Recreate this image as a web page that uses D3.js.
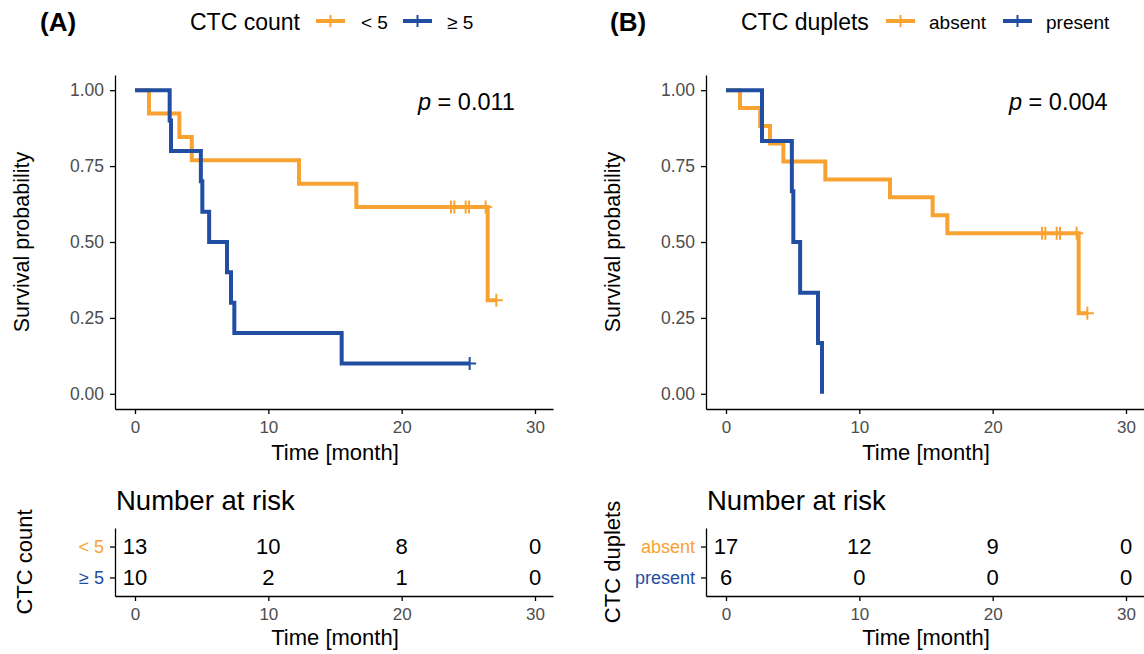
<!DOCTYPE html>
<html>
<head>
<meta charset="utf-8">
<script src="https://cdn.jsdelivr.net/npm/d3@7"></script>
<style>
body { margin: 0; background: #fff; }
svg { font-family: "Liberation Sans", Arial, sans-serif; }
</style>
</head>
<body>
<svg id="chart" width="1144" height="654"></svg>
<script>
// ---- data ----
const monthTicks = [0, 10, 20, 30]
const survTicks = [0, 0.25, 0.5, 0.75, 1]

// (A) CTC count
const ctcLabels = ["< 5", "\u2265 5"]
const ctcLowTime = [0, 1.05, 3.33, 4.26, 12.3, 16.6, 26.45, 27.1]
const ctcLowSurv = [1, 0.923, 0.846, 0.769, 0.692, 0.615, 0.308, 0.308]
const ctcLowCensor = [23.7, 23.95, 24.8, 25.05, 26.3, 27.1]
const ctcHighTime = [0, 2.6, 2.7, 4.94, 5.05, 5.56, 6.9, 7.2, 7.45, 15.5, 25.1]
const ctcHighSurv = [1, 0.9, 0.8, 0.7, 0.6, 0.5, 0.4, 0.3, 0.2, 0.1, 0.1]
const ctcHighCensor = [25.1]
const ctcRiskLow = [13, 10, 8, 0]
const ctcRiskHigh = [10, 2, 1, 0]
const ctcPval = "0.011"

// (B) CTC duplets
const dupLabels = ["absent", "present"]
const dupAbsentTime = [0, 1.05, 2.56, 3.3, 4.3, 7.45, 12.3, 15.5, 16.6, 26.45, 27.1]
const dupAbsentSurv = [1, 0.941, 0.882, 0.824, 0.765, 0.706, 0.647, 0.588, 0.529, 0.265, 0.265]
const dupAbsentCensor = [23.7, 23.95, 24.8, 25.05, 26.3, 27.1]
const dupPresentTime = [0, 2.7, 4.94, 5.05, 5.56, 6.9, 7.2]
const dupPresentSurv = [1, 0.833, 0.667, 0.5, 0.333, 0.167, 0]
const dupPresentCensor = []
const dupRiskAbsent = [17, 12, 9, 0]
const dupRiskPresent = [6, 0, 0, 0]
const dupPval = "0.004"

const orange = "#F8A232"
const blue = "#224EA2"
const tickGrey = "#4D4D4D"

const panels = [
    {
        dx: 0, letter: "(A)", letterX: 40, legendTitle: "CTC count", titleX: 190,
        keyX: [316, 403], labelX: [361, 447], riskTitle: "CTC count", riskTitleX: 32,
        labels: ctcLabels, pval: ctcPval,
        curves: [
            {time: ctcLowTime, surv: ctcLowSurv, censor: ctcLowCensor, color: orange},
            {time: ctcHighTime, surv: ctcHighSurv, censor: ctcHighCensor, color: blue}
        ],
        risk: [ctcRiskLow, ctcRiskHigh]
    },
    {
        dx: 591, letter: "(B)", letterX: 610, legendTitle: "CTC duplets", titleX: 741,
        keyX: [886, 1003], labelX: [929, 1046], riskTitle: "CTC duplets", riskTitleX: 29,
        labels: dupLabels, pval: dupPval,
        curves: [
            {time: dupAbsentTime, surv: dupAbsentSurv, censor: dupAbsentCensor, color: orange},
            {time: dupPresentTime, surv: dupPresentSurv, censor: dupPresentCensor, color: blue}
        ],
        risk: [dupRiskAbsent, dupRiskPresent]
    }
]

const svg = d3.select("#chart")

function survAt(times, surv, t){
    let s = surv[0]
    times.forEach((tt, i) => { if (tt <= t) s = surv[i] })
    return s
}

function styleAxis(ax, fontSize, color){
    ax.select(".domain").attr("stroke", "#000").attr("stroke-width", 1.3)
    ax.selectAll(".tick line").attr("stroke", "#000").attr("stroke-width", 1.3)
    ax.selectAll(".tick text").attr("font-size", fontSize).attr("fill", color)
        .attr("font-family", "Liberation Sans, Arial, sans-serif")
}

function drawPanel(p){
    // header: panel letter + legend
    svg.append("text").attr("x", p.letterX).attr("y", 31)
        .attr("font-size", 26).attr("font-weight", "bold").text(p.letter)
    svg.append("text").attr("x", p.titleX).attr("y", 30)
        .attr("font-size", 23).text(p.legendTitle)
    p.curves.forEach((c, i) => {
        const kx = p.keyX[i]
        svg.append("line").attr("x1", kx).attr("x2", kx + 29).attr("y1", 21).attr("y2", 21)
            .attr("stroke", c.color).attr("stroke-width", 4)
        svg.append("line").attr("x1", kx + 14.5).attr("x2", kx + 14.5).attr("y1", 15).attr("y2", 27)
            .attr("stroke", c.color).attr("stroke-width", 2)
        svg.append("text").attr("x", p.labelX[i]).attr("y", 29)
            .attr("font-size", 19).text(p.labels[i])
    })

    const g = svg.append("g").attr("transform", `translate(${p.dx},0)`)
    const x = d3.scaleLinear().domain([-1.5, 31.35]).range([115, 553])
    const y = d3.scaleLinear().domain([-0.05, 1.05]).range([409, 75])

    // survival curves
    const line = d3.line().x(d => x(d[0])).y(d => y(d[1])).curve(d3.curveStepAfter)
    p.curves.forEach(c => {
        const pts = c.time.map((t, i) => [t, c.surv[i]])
        g.append("path").attr("d", line(pts)).attr("fill", "none")
            .attr("stroke", c.color).attr("stroke-width", 4)
        g.selectAll(null).data(c.censor).join("path")
            .attr("d", t => {
                const cx = x(t), cy = y(survAt(c.time, c.surv, t))
                return `M${cx - 6.5},${cy}h13M${cx},${cy - 6.5}v13`
            })
            .attr("stroke", c.color).attr("stroke-width", 2)
    })

    // axes
    const yAx = g.append("g").attr("transform", "translate(115,0)")
        .call(d3.axisLeft(y).tickValues(survTicks).tickFormat(d3.format(".2f"))
            .tickSize(5).tickSizeOuter(0).tickPadding(6))
    styleAxis(yAx, 17.5, tickGrey)
    const xAx = g.append("g").attr("transform", "translate(0,409)")
        .call(d3.axisBottom(x).tickValues(monthTicks).tickSize(5).tickSizeOuter(0).tickPadding(7))
    styleAxis(xAx, 17, tickGrey)

    g.append("text").attr("transform", "translate(29,242) rotate(-90)")
        .attr("text-anchor", "middle").attr("font-size", 21.5).text("Survival probability")
    g.append("text").attr("x", 335).attr("y", 460).attr("text-anchor", "middle")
        .attr("font-size", 22).text("Time [month]")

    const pv = g.append("text").attr("x", 418).attr("y", 110).attr("font-size", 23.5)
    pv.append("tspan").attr("font-style", "italic").text("p")
    pv.append("tspan").text(" = " + p.pval)

    // risk table
    const ry = d3.scalePoint().domain(p.labels).range([528, 596]).padding(0.6)
    g.append("text").attr("x", 116).attr("y", 510).attr("font-size", 27.5).text("Number at risk")

    p.risk.forEach((row, i) => {
        g.selectAll(null).data(row).join("text")
            .attr("x", (d, j) => x(monthTicks[j]))
            .attr("y", ry(p.labels[i]))
            .attr("dy", "0.36em")
            .attr("text-anchor", "middle")
            .attr("font-size", 22)
            .text(d => d)
    })

    const ryAx = g.append("g").attr("transform", "translate(115,0)")
        .call(d3.axisLeft(ry).tickSize(5).tickSizeOuter(0).tickPadding(6))
    styleAxis(ryAx, 18, tickGrey)
    ryAx.selectAll(".tick text").attr("fill", (d, i) => p.curves[i].color)
    const rxAx = g.append("g").attr("transform", "translate(0,596)")
        .call(d3.axisBottom(x).tickValues(monthTicks).tickSize(5).tickSizeOuter(0).tickPadding(7))
    styleAxis(rxAx, 17, tickGrey)

    g.append("text").attr("transform", `translate(${p.riskTitleX},562) rotate(-90)`)
        .attr("text-anchor", "middle").attr("font-size", 22).text(p.riskTitle)
    g.append("text").attr("x", 335).attr("y", 645).attr("text-anchor", "middle")
        .attr("font-size", 22).text("Time [month]")
}

panels.forEach(drawPanel)
</script>
</body>
</html>
